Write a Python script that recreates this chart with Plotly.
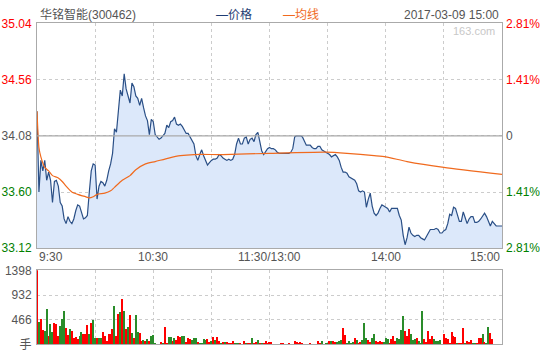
import plotly.graph_objects as go

# ---------------- data ----------------
stock_name = "华铭智能(300462)"
timestamp = "2017-03-09 15:00"
prev_close = 34.08
price_ticks = [35.04, 34.56, 34.08, 33.60, 33.12]
pct_ticks = ["2.81%", "1.41%", "0", "1.41%", "2.81%"]
vol_ticks = [0, 466, 932, 1398]
vol_tick_text = ["手", "466", "932", "1398"]
time_ticks = [0, 60, 120, 180, 240]
time_labels = ["9:30", "10:30", "11:30/13:00", "14:00", "15:00"]

# minute-by-minute price (minute 0 = 9:30, 120 = 11:30/13:00, 240 = 15:00)
price = [
    34.29, 33.60, 33.87, 33.78, 33.87, 33.70, 33.77, 33.70, 33.51, 33.69,
    33.70, 33.65, 33.51, 33.48, 33.37, 33.33, 33.39, 33.35, 33.33, 33.37,
    33.44, 33.49, 33.48, 33.42, 33.37, 33.38, 33.40, 33.60, 33.78, 33.84,
    33.83, 33.54, 33.65, 33.69, 33.68, 33.65, 33.70, 33.78, 33.84, 33.93,
    34.14, 34.11, 34.28, 34.47, 34.42, 34.61, 34.48, 34.42, 34.36, 34.53,
    34.50, 34.42, 34.40, 34.34, 34.40, 34.32, 34.25, 34.21, 34.09, 34.22,
    34.20, 34.09, 34.07, 34.05, 34.06, 34.08, 34.10, 34.17, 34.15, 34.20,
    34.21, 34.24, 34.18, 34.17, 34.18, 34.16, 34.13, 34.10, 34.10, 34.07,
    34.04, 34.01, 33.91, 33.87, 33.92, 33.96, 33.91, 33.87, 33.83, 33.85,
    33.87, 33.88, 33.88, 33.89, 33.92, 33.91, 33.89, 33.88, 33.87, 33.88,
    33.87, 33.88, 33.92, 34.01, 34.06, 34.01, 34.01, 34.06, 34.07, 34.01,
    34.05, 34.06, 34.03, 34.09, 34.11, 34.03, 33.95, 33.92, 33.95, 33.97,
    33.98, 33.97, 33.97, 33.96, 33.94, 33.93, 33.93, 33.93, 33.93, 33.93,
    33.93, 33.94, 33.97, 34.07, 34.08, 34.08, 34.08, 34.07, 34.03, 34.00,
    34.00, 34.00, 33.98, 33.97, 33.97, 33.99, 33.99, 33.96, 33.95, 33.94,
    33.93, 33.92, 33.90, 33.91, 33.92, 33.90, 33.87, 33.81, 33.77, 33.77,
    33.76, 33.73, 33.72, 33.71, 33.70, 33.67, 33.61, 33.60, 33.61, 33.60,
    33.47, 33.54, 33.59, 33.48, 33.42, 33.40, 33.42, 33.46, 33.49, 33.48,
    33.47, 33.46, 33.43, 33.46, 33.46, 33.46, 33.46, 33.40, 33.36, 33.23,
    33.15, 33.21, 33.30, 33.25, 33.23, 33.22, 33.23, 33.23, 33.21, 33.20,
    33.19, 33.22, 33.25, 33.28, 33.28, 33.28, 33.29, 33.28, 33.25, 33.25,
    33.27, 33.28, 33.33, 33.41, 33.40, 33.47, 33.46, 33.41, 33.35, 33.35,
    33.43, 33.38, 33.33, 33.37, 33.39, 33.39, 33.34, 33.34, 33.35, 33.37,
    33.39, 33.42, 33.39, 33.35, 33.31, 33.35, 33.33, 33.31, 33.31, 33.31,
    33.31,
]

# average price line (read at selected minutes)
avg_minutes = [0, 1, 2, 4, 6, 8, 11, 13, 15, 18, 21, 25, 27, 29, 31, 35, 38, 40,
               44, 48, 51, 56, 61, 68, 74, 81, 96, 120, 149, 160, 174, 180, 191,
               210, 240]
avg_price = [34.29, 33.98, 33.90, 33.81, 33.78, 33.74, 33.72, 33.69, 33.65, 33.60,
             33.58, 33.56, 33.55, 33.56, 33.58, 33.59, 33.61, 33.64, 33.70, 33.74,
             33.79, 33.84, 33.86, 33.89, 33.91, 33.92, 33.92, 33.93, 33.94, 33.93,
             33.91, 33.90, 33.86, 33.81, 33.75]

# minute volume (手) and direction (1 = up/red, -1 = down/green)
volume = [
    1390, 424, 472, 260, 242, 666, 151, 381, 230, 393,
    381, 151, 333, 472, 623, 309, 169, 290, 242, 109,
    127, 97, 151, 218, 188, 188, 363, 188, 399, 460,
    121, 121, 109, 109, 218, 151, 60, 188, 188, 290,
    714, 157, 575, 605, 853, 623, 290, 315, 545, 200,
    121, 545, 230, 200, 48, 73, 48, 97, 48, 151,
    169, 18, 0, 0, 30, 24, 327, 24, 139, 139,
    48, 109, 79, 157, 133, 157, 145, 36, 109, 97,
    73, 109, 109, 36, 24, 18, 91, 73, 97, 36,
    60, 139, 85, 127, 48, 24, 30, 30, 30, 24,
    24, 48, 24, 24, 24, 12, 0, 48, 12, 24,
    12, 109, 24, 36, 73, 12, 24, 12, 48, 24,
    30, 30, 0, 0, 0, 0, 18, 18, 0, 0,
    18, 0, 0, 54, 30, 18, 30, 18, 0, 0,
    0, 18, 0, 0, 0, 54, 18, 54, 0, 18,
    24, 54, 54, 54, 36, 42, 48, 73, 309, 163,
    24, 48, 24, 42, 121, 79, 18, 36, 79, 399,
    121, 79, 36, 121, 194, 54, 42, 54, 36, 36,
    121, 91, 24, 91, 157, 54, 109, 91, 260, 520,
    254, 157, 278, 194, 73, 91, 121, 48, 18, 617,
    91, 30, 254, 91, 145, 91, 48, 54, 73, 0,
    182, 121, 91, 18, 236, 145, 139, 18, 18, 24,
    309, 18, 54, 30, 73, 18, 18, 18, 121, 109,
    182, 30, 18, 327, 200, 91, 0, 0, 0, 0,
    0,
]
vol_dir = [
    1, -1, 1, 1, -1, -1, 1, -1, -1, 1,
    1, 1, -1, -1, -1, 1, 1, -1, 1, 1,
    1, 1, -1, -1, 1, 1, 1, -1, 1, -1,
    -1, 1, -1, -1, 1, 1, 1, 1, 1, 1,
    -1, 1, 1, -1, 1, -1, 1, -1, 1, -1,
    1, -1, -1, 1, 1, -1, 1, -1, 1, -1,
    -1, -1, 1, 1, 1, -1, 1, 1, -1, -1,
    1, -1, 1, 1, 1, -1, -1, 1, 1, 1,
    -1, -1, -1, 1, -1, -1, -1, -1, 1, 1,
    -1, 1, -1, 1, 1, -1, 1, -1, 1, 1,
    1, 1, -1, -1, -1, 1, 1, 1, -1, 1,
    1, -1, 1, 1, -1, 1, -1, 1, 1, 1,
    1, 1, 1, 1, 1, 1, 1, 1, 1, 1,
    1, 1, 1, 1, 1, 1, 1, 1, 1, 1,
    1, 1, 1, 1, 1, 1, 1, -1, 1, -1,
    -1, 1, -1, 1, 1, -1, -1, -1, 1, 1,
    -1, -1, -1, -1, 1, -1, 1, 1, -1, -1,
    -1, 1, 1, -1, -1, 1, 1, 1, 1, -1,
    -1, -1, 1, 1, 1, 1, -1, -1, -1, -1,
    1, 1, 1, -1, -1, -1, 1, -1, -1, -1,
    1, 1, 1, 1, 1, -1, -1, -1, -1, 1,
    1, 1, 1, 1, 1, 1, 1, -1, 1, 1,
    1, -1, 1, 1, 1, -1, -1, 1, 1, 1,
    -1, 1, -1, -1, 1, 1, 1, 1, 1, 1,
    1,
]

# ---------------- styling ----------------
RED = "#ff0000"
GREEN = "#008000"
GRAY_TXT = "#555555"
BORDER = "#aaaaaa"
GRID = "#cccccc"
DASH = "3px,3px"
FONT = "Liberation Sans, Noto Sans CJK SC, sans-serif"

W, H = 540, 360
def px_x(p):
    return p / W
def px_y(p):
    return 1 - p / H

x_dom = [px_x(37), px_x(502)]
price_dom = [px_y(251), px_y(17)]
vol_dom = [px_y(351), px_y(274)]

minutes = list(range(len(price)))
vol_minutes = list(range(len(volume)))
bar_colors = [RED if d > 0 else "#2a8c2a" for d in vol_dir]

left_colors = [RED, RED, GRAY_TXT, GREEN, GREEN]
left_text = [f'<span style="color:{c}">{v:.2f}</span>' for v, c in zip(price_ticks, left_colors)]
right_text = [f'<span style="color:{c}">{t}</span>' for t, c in zip(pct_ticks, left_colors)]

fig = go.Figure()

fig.add_trace(go.Scatter(
    x=minutes, y=price, mode="lines",
    line=dict(color="#2a4f86", width=1.2),
    fill="tozeroy", fillcolor="#dce8fa",
    xaxis="x", yaxis="y", showlegend=False, hoverinfo="skip"))

fig.add_trace(go.Scatter(
    x=avg_minutes, y=avg_price, mode="lines",
    line=dict(color="#f06a1e", width=1.2, shape="spline", smoothing=0.6),
    xaxis="x", yaxis="y", showlegend=False, hoverinfo="skip"))

# invisible trace to activate right axis
fig.add_trace(go.Scatter(
    x=[minutes[0]], y=[prev_close], mode="markers", opacity=0,
    xaxis="x", yaxis="y3", showlegend=False, hoverinfo="skip"))

fig.add_trace(go.Bar(
    x=vol_minutes, y=volume, marker=dict(color=bar_colors, line=dict(width=0)),
    width=0.6, xaxis="x2", yaxis="y2", showlegend=False, hoverinfo="skip"))

tick_font = dict(family=FONT, size=12, color=GRAY_TXT)

fig.update_layout(
    width=W, height=H,
    margin=dict(l=0, r=0, t=0, b=0),
    paper_bgcolor="white", plot_bgcolor="white",
    font=tick_font,
    bargap=0,
    xaxis=dict(domain=x_dom, range=[0, 240], tickvals=time_ticks,
               showticklabels=False, showgrid=True, gridcolor=GRID,
               griddash=DASH, gridwidth=1, dtick=30, tick0=0,
               tickmode="linear",
               showline=True, linecolor=BORDER, linewidth=1, mirror=True,
               zeroline=False, anchor="y", fixedrange=True),
    yaxis=dict(domain=price_dom, range=[price_ticks[-1], price_ticks[0]],
               tickvals=price_ticks, ticktext=left_text, ticks="",
               showgrid=True, gridcolor=GRID, griddash=DASH, gridwidth=1,
               showline=True, linecolor=BORDER, linewidth=1, mirror=True,
               zeroline=False, anchor="x", ticklabelstandoff=2, fixedrange=True),
    yaxis3=dict(overlaying="y", side="right", anchor="x",
                range=[price_ticks[-1], price_ticks[0]],
                tickvals=price_ticks, ticktext=right_text, ticks="",
                showgrid=False, zeroline=False, showline=False,
                ticklabelstandoff=3, fixedrange=True),
    xaxis2=dict(domain=x_dom, range=[0, 240], showticklabels=False,
                showgrid=True, gridcolor=GRID, griddash=DASH, dtick=30,
                tick0=0, tickmode="linear",
                showline=True, linecolor=BORDER, linewidth=1, mirror=True,
                zeroline=False, anchor="y2", fixedrange=True),
    yaxis2=dict(domain=vol_dom, range=[0, vol_ticks[-1]], tickvals=vol_ticks,
                ticktext=vol_tick_text, ticks="", showgrid=True,
                gridcolor=GRID, griddash=DASH,
                showline=True, linecolor=BORDER, linewidth=1, mirror=True,
                zeroline=False, anchor="x2", ticklabelstandoff=2, fixedrange=True),
)

# previous close line
fig.add_shape(type="line", xref="x", yref="y", x0=0, x1=240,
              y0=prev_close, y1=prev_close,
              line=dict(color=BORDER, width=1.2))

# time labels between panels
anchors = ["left", "center", "center", "center", "right"]
for t, lab, a in zip(time_ticks, time_labels, anchors):
    fig.add_annotation(x=t, y=px_y(260), xref="x", yref="paper", text=lab,
                       showarrow=False, xanchor=a, yanchor="middle",
                       font=dict(family=FONT, size=12, color=GRAY_TXT))

# header
fig.add_annotation(x=px_x(38), y=px_y(8), xref="paper", yref="paper",
                   text=stock_name, showarrow=False, xanchor="left",
                   yanchor="middle", font=dict(family=FONT, size=12, color=GRAY_TXT))
fig.add_annotation(x=px_x(214), y=px_y(8), xref="paper", yref="paper",
                   text="—价格", showarrow=False, xanchor="left",
                   yanchor="middle", font=dict(family=FONT, size=12, color="#1f3d73"))
fig.add_annotation(x=px_x(281), y=px_y(8), xref="paper", yref="paper",
                   text="—均线", showarrow=False, xanchor="left",
                   yanchor="middle", font=dict(family=FONT, size=12, color="#f06a1e"))
fig.add_annotation(x=px_x(501), y=px_y(8), xref="paper", yref="paper",
                   text=timestamp, showarrow=False, xanchor="right",
                   yanchor="middle", font=dict(family=FONT, size=12, color=GRAY_TXT))
fig.add_annotation(x=px_x(497), y=px_y(25), xref="paper", yref="paper",
                   text="163.com", showarrow=False, xanchor="right",
                   yanchor="middle", font=dict(family=FONT, size=11, color="#c8c8c8"))

fig.write_html("out.html")
